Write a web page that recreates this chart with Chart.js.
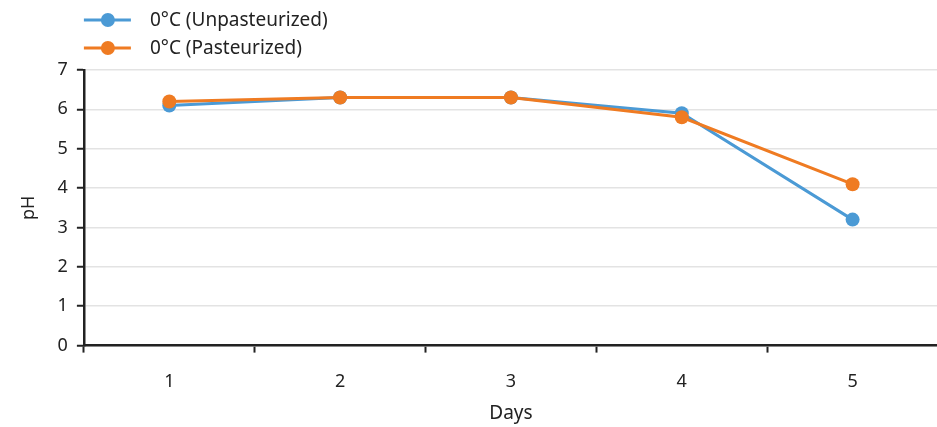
<!DOCTYPE html>
<html>
<head>
<meta charset="utf-8">
<script src="https://cdn.jsdelivr.net/npm/chart.js@4.4.1/dist/chart.umd.min.js"></script>
<style>
  html, body { margin: 0; padding: 0; background: #fff; overflow: hidden; }
  #wrap { width: 937px; height: 427px; overflow: hidden; }
</style>
</head>
<body>
<div id="wrap"><canvas id="myChart" width="945" height="427"></canvas></div>
<script>
// data
const days = ['1', '2', '3', '4', '5'];
const unpasteurized = [6.1, 6.3, 6.3, 5.9, 3.2];
const pasteurized = [6.2, 6.3, 6.3, 5.8, 4.1];
const seriesNames = ['0°C (Unpasteurized)', '0°C (Pasteurized)'];

const BLUE = '#4b9ad5';
const ORANGE = '#ef7b22';
const FONT = "'Noto Sans', 'Open Sans', sans-serif";

// legend drawn by hand: line with a dot through it, two rows
const lineLegend = {
  id: 'lineLegend',
  afterDraw(chart) {
    const ctx = chart.ctx;
    const left = chart.chartArea.left;
    const items = [{ name: seriesNames[0], color: BLUE }, { name: seriesNames[1], color: ORANGE }];
    ctx.save();
    items.forEach((it, i) => {
      const y = 20 + i * 28;
      ctx.strokeStyle = it.color;
      ctx.lineWidth = 3;
      ctx.beginPath();
      ctx.moveTo(left, y);
      ctx.lineTo(left + 47, y);
      ctx.stroke();
      ctx.fillStyle = it.color;
      ctx.beginPath();
      ctx.arc(left + 24, y, 7, 0, Math.PI * 2);
      ctx.fill();
      ctx.fillStyle = '#222';
      ctx.font = '19px ' + FONT;
      ctx.textBaseline = 'middle';
      ctx.textAlign = 'left';
      ctx.fillText(it.name, left + 66, y + 1);
    });
    ctx.restore();
  }
};

const ctx = document.querySelector('#myChart');
new Chart(ctx, {
  type: 'line',
  data: {
    labels: days,
    datasets: [
      {
        label: seriesNames[0],
        data: unpasteurized,
        borderColor: BLUE,
        backgroundColor: BLUE,
        borderWidth: 3,
        pointRadius: 7,
        pointHoverRadius: 7,
        pointBorderWidth: 0,
        order: 1
      },
      {
        label: seriesNames[1],
        data: pasteurized,
        borderColor: ORANGE,
        backgroundColor: ORANGE,
        borderWidth: 3,
        pointRadius: 7,
        pointHoverRadius: 7,
        pointBorderWidth: 0,
        order: 0
      }
    ]
  },
  options: {
    responsive: false,
    animation: false,
    layout: { padding: { top: 70, right: 0, left: 14, bottom: -1 } },
    plugins: {
      legend: { display: false },
      tooltip: { enabled: false }
    },
    scales: {
      x: {
        offset: true,
        grid: {
          offset: true,
          drawOnChartArea: false,
          drawTicks: true,
          tickLength: 7,
          tickColor: '#222',
          tickWidth: 2
        },
        border: { color: '#222', width: 2.5 },
        ticks: { color: '#222', font: { family: FONT, size: 18 }, padding: 18 },
        title: { display: true, text: 'Days', color: '#222', font: { family: FONT, size: 19 }, padding: { top: -8, bottom: 3 } }
      },
      y: {
        min: 0,
        max: 7,
        ticks: { stepSize: 1, color: '#222', font: { family: FONT, size: 18 }, padding: 9 },
        grid: {
          color: '#e3e3e3',
          lineWidth: 1.5,
          drawTicks: true,
          tickLength: 7,
          tickColor: '#222',
          tickWidth: 2
        },
        border: { color: '#222', width: 2.5 },
        title: { display: true, text: 'pH', color: '#222', font: { family: FONT, size: 18 }, padding: { bottom: 9 } }
      }
    }
  },
  plugins: [lineLegend]
});
</script>
</body>
</html>
